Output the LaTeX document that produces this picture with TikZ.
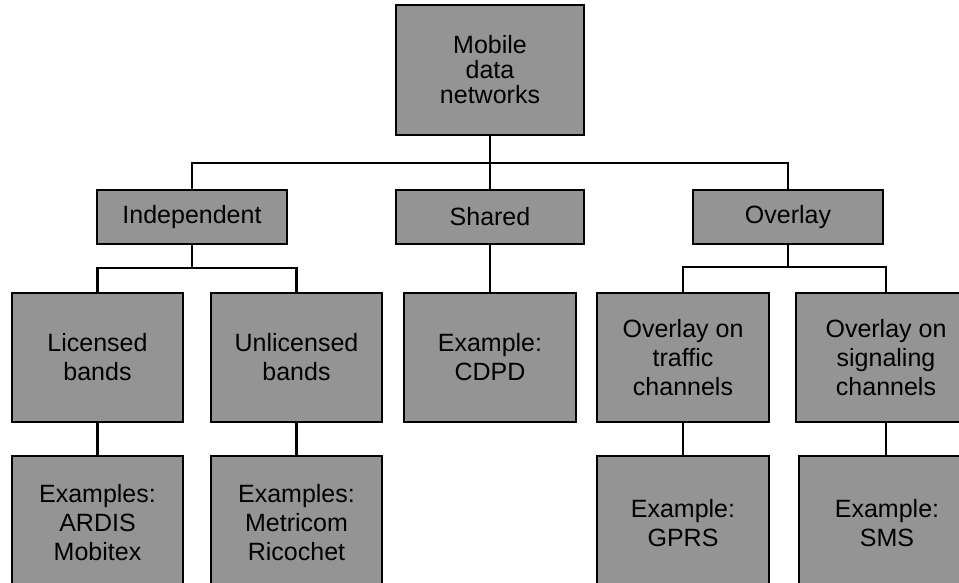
\documentclass[tikz,border=0pt]{standalone}
\usepackage{fontspec}
\setmainfont{Liberation Sans}
\definecolor{boxgray}{RGB}{148,148,148}
\begin{document}
\begin{tikzpicture}[x=1pt,y=-1pt,
  box/.style={draw=black, line width=1.4pt, fill=boxgray, inner sep=0pt,
    align=center, text=black, font=\fontsize{25}{29}\selectfont},
  link/.style={draw=black, line width=2.4pt}]
\useasboundingbox (0,0) rectangle (959,583);

% root
\node[box, minimum width=188pt, minimum height=130pt, font=\fontsize{25}{25}\selectfont]
  (root) at (490,70) {Mobile\\data\\networks};

% second level
\node[box, minimum width=190pt, minimum height=54pt] (ind) at (192,217) {Independent};
\node[box, minimum width=188pt, minimum height=54pt] (shr) at (490,217) {Shared};
\node[box, minimum width=190pt, minimum height=54pt] (ovl) at (788,217) {Overlay};

% third level
\node[box, minimum width=171pt, minimum height=129pt] (lic) at (97.5,357.5) {Licensed\\bands};
\node[box, minimum width=171pt, minimum height=129pt] (unl) at (296.5,357.5) {Unlicensed\\bands};
\node[box, minimum width=172pt, minimum height=129pt] (cdpd) at (490,357.5) {Example:\\CDPD};
\node[box, minimum width=172pt, minimum height=129pt] (trf) at (683,357.5) {Overlay on\\traffic\\channels};
\node[box, minimum width=180pt, minimum height=129pt] (sig) at (886,357.5) {Overlay on\\signaling\\channels};

% fourth level
\node[box, minimum width=171pt, minimum height=134pt] (exl) at (97.5,523) {Examples:\\ARDIS\\Mobitex};
\node[box, minimum width=171pt, minimum height=134pt] (exu) at (296.5,523) {Examples:\\Metricom\\Ricochet};
\node[box, minimum width=172pt, minimum height=134pt] (ext) at (683,523) {Example:\\GPRS};
\node[box, minimum width=176pt, minimum height=134pt] (exs) at (887,523) {Example:\\SMS};

% bus lines
\coordinate (busA) at (490,163);
\coordinate (busB) at (192,268);
\coordinate (busC) at (788,267);

% root to second level
\draw[link] (root.south) -- (root.south |- shr.north);
\draw[link] (ind.north) -- (ind.north |- busA) -- (ovl.north |- busA) -- (ovl.north);

% independent branch
\draw[link] (ind.south) -- (ind.south |- busB);
\draw[link] (lic.north) -- (lic.north |- busB) -- (unl.north |- busB) -- (unl.north);

% shared branch
\draw[link] (shr.south) -- (shr.south |- cdpd.north);

% overlay branch
\draw[link] (ovl.south) -- (ovl.south |- busC);
\draw[link] (trf.north) -- (trf.north |- busC) -- (sig.north |- busC) -- (sig.north);

% examples
\draw[link] (lic.south) -- (lic.south |- exl.north);
\draw[link] (unl.south) -- (unl.south |- exu.north);
\draw[link] (trf.south) -- (trf.south |- ext.north);
\draw[link] (sig.south) -- (sig.south |- exs.north);
\end{tikzpicture}
\end{document}
